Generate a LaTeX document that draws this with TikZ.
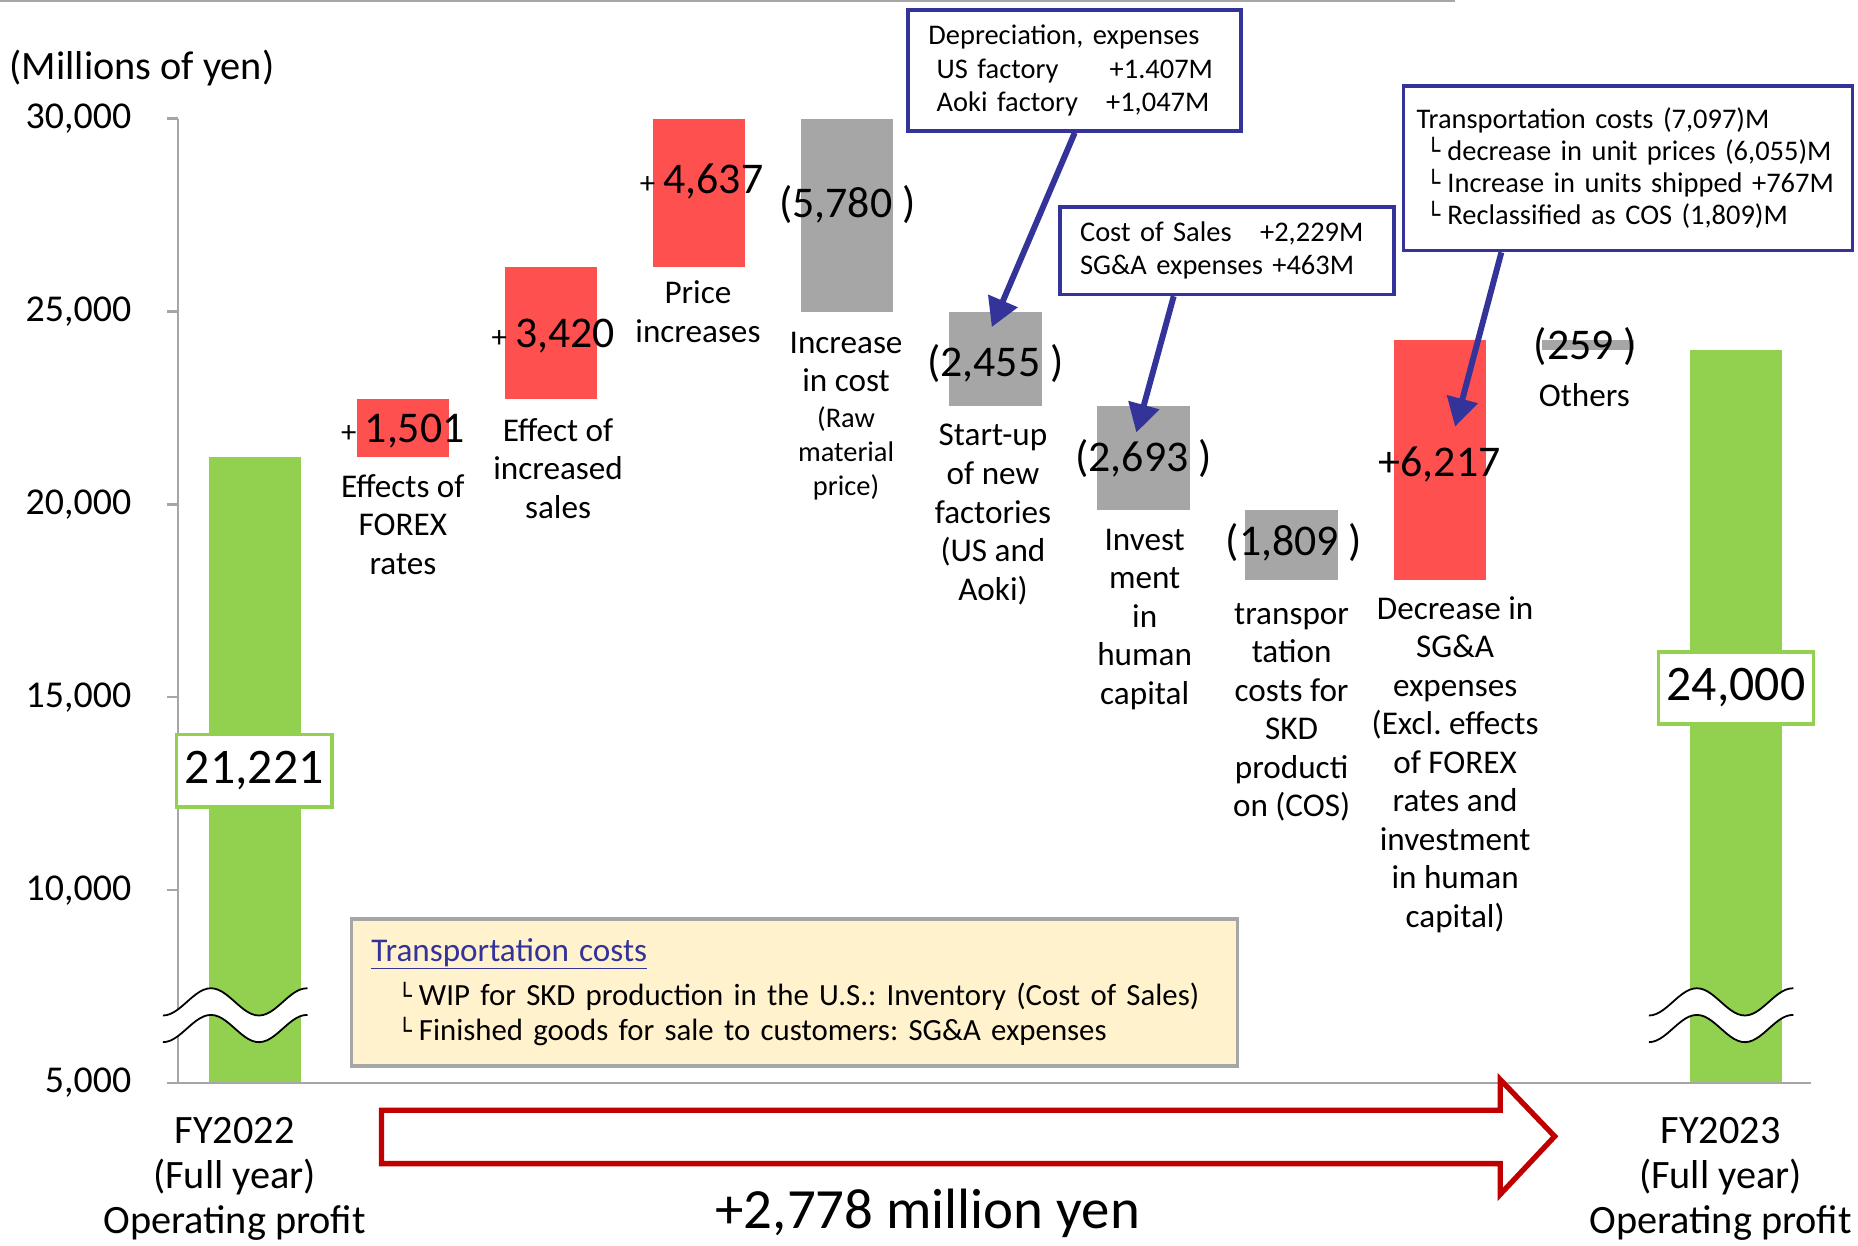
\documentclass[tikz,border=0pt]{standalone}
\usepackage{fontspec}
\setmainfont{Carlito}
\newfontfamily\symfont{DejaVu Sans}
\usepackage{tikz}
\usetikzlibrary{arrows.meta}
\frenchspacing

\definecolor{barGreen}{HTML}{92D050}
\definecolor{barRed}{HTML}{FF5050}
\definecolor{barGray}{HTML}{A6A6A6}
\definecolor{calloutBlue}{HTML}{333399}
\definecolor{noteFill}{HTML}{FFF2CC}
\definecolor{arrowRed}{HTML}{C00000}

\newcommand{\smallplus}{{\fontsize{26}{26}\selectfont+}\hspace{7pt}}
\newcommand{\corner}{{\symfont\fontsize{20}{20}\selectfont\raisebox{1pt}{└}}\hspace{6pt}}

\tikzset{
  ticklabel/.style={anchor=east, inner sep=0pt, font=\fontsize{32}{32}\selectfont},
  vallabel/.style={inner sep=0pt, font=\fontsize{37}{37}\selectfont},
  catlabel/.style={anchor=north, inner sep=0pt, align=center, font=\fontsize{28}{32.5}\selectfont},
  smallcat/.style={anchor=north, inner sep=0pt, align=center, font=\fontsize{24}{28.5}\selectfont},
  endlabel/.style={anchor=north, inner sep=0pt, align=center, font=\fontsize{34}{38}\selectfont},
  totalbox/.style={draw=barGreen, line width=3pt, fill=white, inner sep=0pt,
    minimum width=131pt, minimum height=61pt, font=\fontsize{42}{42}\selectfont},
  callout/.style={draw=calloutBlue, line width=3pt, fill=white, anchor=north west,
    align=left, inner ysep=0pt, font=\fontsize{24}{28}\selectfont},
  calloutarrow/.style={draw=calloutBlue, line width=5pt,
    -{Triangle[length=24pt, width=26pt]}},
  axisbreak/.pic={
    \fill[white] plot[domain=-61:61, samples=40] (\x,{-11.5*cos(4.4444*(\x+20.5))})
      -- plot[domain=61:-61, samples=40] (\x,{22.5-11.5*cos(4.4444*(\x+20.5))}) -- cycle;
    \draw[line width=1.5pt] plot[domain=-61:61, samples=40] (\x,{-11.5*cos(4.4444*(\x+20.5))});
    \draw[line width=1.5pt] plot[domain=-61:61, samples=40] (\x,{22.5-11.5*cos(4.4444*(\x+20.5))});
  }
}

\begin{document}
\begin{tikzpicture}[x=1pt, y=-1pt]
\useasboundingbox (0,0) rectangle (1568,1051);
\draw[gray!70, line width=1.5pt] (0,1) -- (1228,1);

% Bars, in thousands of yen
\begin{scope}[y=32.556pt, yshift=-1076.78pt]
\fill[barGreen] (176,5) rectangle (254,21.221);
\fill[barRed] (301,21.221) rectangle (379,22.722);
\fill[barRed] (426,22.722) rectangle (504,26.142);
\fill[barRed] (551,26.142) rectangle (629,30);
\fill[barGray] (676,30) rectangle (754,24.999);
\fill[barGray] (801,24.999) rectangle (879,22.544);
\fill[barGray] (926,22.544) rectangle (1004,19.851);
\fill[barGray] (1051,19.851) rectangle (1129,18.042);
\fill[barRed] (1176,18.042) rectangle (1254,24.259);
\fill[barGray] (1301,24.259) rectangle (1379,24);
\fill[barGreen] (1426,5) rectangle (1504,24);

% Axes
\draw[barGray, line width=2pt] (150,5) -- (150,30);
\draw[barGray, line width=2pt] (141,5) -- (1528,5);
\foreach \v/\t in {5/{5,000}, 10/{10,000}, 15/{15,000}, 20/{20,000}, 25/{25,000}, 30/{30,000}} {
  \draw[barGray, line width=2pt] (141,\v) -- (150,\v);
  \node[ticklabel] (tick\v) at (111,\v) {\t};
}
\end{scope}
\node[anchor=west, inner sep=0pt, font=\fontsize{34}{34}\selectfont] (unit) at (8,57) {(Millions of yen)};

% Axis breaks
\pic at (198.5,845.5) {axisbreak};
\pic at (1452.5,845.5) {axisbreak};

% Value labels
\node[totalbox] (startval) at (214.5,650.5) {21,221};
\node[totalbox] (endval) at (1465,580.5) {24,000};
\node[vallabel] (forexval) at (340,364) {\smallplus 1,501};
\node[vallabel] (salesval) at (467,284) {\smallplus 3,420};
\node[vallabel] (priceval) at (592,153) {\smallplus 4,637};
\node[vallabel] (rawval) at (715,173) {(5,780 )};
\node[vallabel] (startupval) at (840,307) {(2,455 )};
\node[vallabel] (humanval) at (965,387) {(2,693 )};
\node[vallabel] (transval) at (1092,458) {(1,809 )};
\node[vallabel] (sgaval) at (1215,392) {+6,217};
\node[vallabel] (otherval) at (1338,292) {(259 )};

% Category labels
\node[catlabel] (forexcat) at (340,400) {Effects of\\FOREX\\rates};
\node[catlabel] (salescat) at (471,353) {Effect of\\increased\\sales};
\node[catlabel] (pricecat) at (589,237) {Price\\increases};
\node[catlabel] (rawcat) at (714,280) {Increase\\in cost};
\node[smallcat] (rawsub) at (714,343) {(Raw\\material\\price)};
\node[catlabel] (startupcat) at (838,358) {Start-up\\of new\\factories\\(US and\\Aoki)};
\node[catlabel] (humancat) at (966,446) {Invest\\ment\\in\\human\\capital};
\node[catlabel] (transcat) at (1090,509) {transpor\\tation\\costs for\\SKD\\producti\\on (COS)};
\node[catlabel] (sgacat) at (1228,503) {Decrease in\\SG\&A\\expenses\\(Excl. effects\\of FOREX\\rates and\\investment\\in human\\capital)};
\node[catlabel] (othercat) at (1337,323) {Others};

% Callouts
\node[callout, inner xsep=17pt, text width=247pt, minimum width=281pt, minimum height=102pt] (depbox) at (765,7)
  {Depreciation, expenses\\
   \hspace*{7pt}\makebox[146pt][l]{US factory}+1.407M\\
   \hspace*{7pt}\makebox[143pt][l]{Aoki factory}+1,047M};
\node[callout, inner xsep=14pt, text width=254pt, minimum width=282pt, minimum height=74pt] (costbox) at (893,173)
  {\hspace*{3pt}\makebox[152pt][l]{Cost of Sales}+2,229M\\
   \hspace*{3pt}SG\&A expenses +463M};
\node[callout, inner xsep=11pt, text width=357pt, minimum width=379pt, minimum height=139pt, font=\fontsize{24}{27}\selectfont] (transbox) at (1183,71)
  {Transportation costs (7,097)M\\
   \hspace*{8pt}\corner decrease in unit prices (6,055)M\\
   \hspace*{8pt}\corner Increase in units shipped +767M\\
   \hspace*{8pt}\corner Reclassified as COS (1,809)M};

\coordinate (startuptip) at (837,276);
\coordinate (humantip) at (959,365);
\coordinate (sgatip) at (1228,360);
\draw[calloutarrow] (depbox.south) -- (startuptip);
\draw[calloutarrow] ([xshift=-45pt]costbox.south) -- (humantip);
\draw[calloutarrow] ([xshift=-107pt]transbox.south) -- (sgatip);

% Note on transportation costs
\node[draw=barGray, line width=3pt, fill=noteFill, anchor=north west, align=left,
  minimum width=748pt, minimum height=124pt, inner xsep=17pt, text width=714pt,
  font=\fontsize{26}{30}\selectfont] (note) at (295,774)
  {{\fontsize{28}{30}\selectfont\color{calloutBlue}\underline{Transportation costs}}\\[7pt]
   \hspace*{22pt}\corner WIP for SKD production in the U.S.: Inventory (Cost of Sales)\\
   \hspace*{22pt}\corner Finished goods for sale to customers: SG\&A expenses};

% Change over the year
\draw[arrowRed, line width=4.5pt, fill=white, line join=miter]
  (322,937) -- (1266,937) -- (1266,911) -- (1312,959) -- (1266,1008) -- (1266,982) -- (322,982) -- cycle;
\node[inner sep=0pt, font=\fontsize{48}{48}\selectfont] (change) at (783,1024) {+2,778 million yen};

% Year labels
\node[endlabel] (fy22) at (198,943) {FY2022\\(Full year)\\Operating profit};
\node[endlabel] (fy23) at (1452,943) {FY2023\\(Full year)\\Operating profit};
\end{tikzpicture}
\end{document}
